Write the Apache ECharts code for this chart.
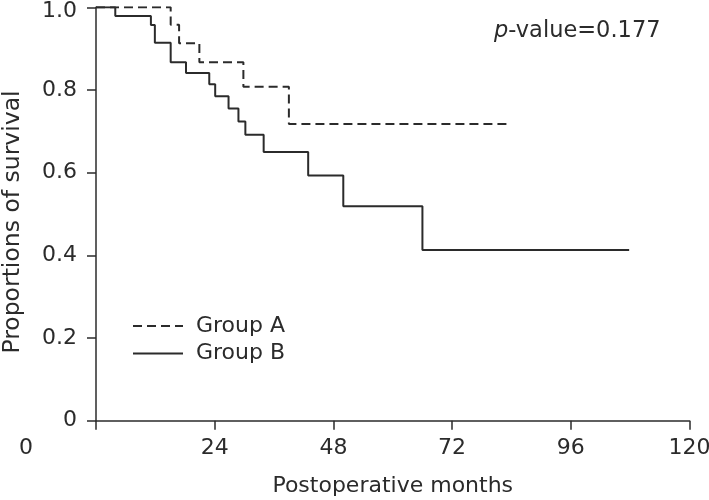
<!DOCTYPE html>
<html>
<head>
<meta charset="utf-8">
<script src="https://cdn.jsdelivr.net/npm/echarts@6/dist/echarts.min.js"></script>
<style>html,body{margin:0;padding:0;background:#fff}#c{width:709px;height:500px}</style>
</head>
<body>
<div id="c"></div>
<script>
// Data
const xTicks = [0, 24, 48, 72, 96, 120];
const yTicks = [0, 0.2, 0.4, 0.6, 0.8, 1.0];
const groupATime = [0, 15.1, 16.8, 20.9, 29.8, 39.0, 83.7];
const groupASurv = [1.0, 0.958, 0.913, 0.867, 0.808, 0.718, 0.718];
const groupBTime = [0, 3.9, 11.1, 11.9, 15.1, 18.2, 22.9, 24.1, 26.8, 28.8, 30.2, 33.9, 42.9, 50.0, 66.0, 107.8];
const groupBSurv = [1.0, 0.979, 0.957, 0.914, 0.867, 0.841, 0.814, 0.785, 0.755, 0.724, 0.692, 0.650, 0.593, 0.519, 0.413, 0.413];
const seriesNames = ['Group A', 'Group B'];
const pValueText = '0.177';

const FONT = 'DejaVu Sans';
const TXT = '#2b2b2b';
const LINE = '#2b2b2b';

const chart = echarts.init(document.getElementById('c'), null, {renderer: 'canvas'});
const zip = (t, s) => t.map((v, i) => [v, s[i]]);

chart.setOption({
  animation: false,
  backgroundColor: '#fff',
  textStyle: {fontFamily: FONT, color: TXT},
  title: {
    left: 494, top: 20, padding: 0,
    text: '{i|p}-value=' + pValueText,
    textStyle: {
      fontFamily: FONT, fontSize: 22.5, fontWeight: 'normal', color: TXT,
      rich: {i: {fontFamily: FONT, fontSize: 22.5, fontStyle: 'italic', color: TXT}}
    }
  },
  legend: {
    orient: 'vertical', left: 132, top: 314, padding: 0,
    itemWidth: 50, itemHeight: 14, itemGap: 3.6,
    data: seriesNames,
    itemStyle: {opacity: 0},
    textStyle: {fontFamily: FONT, fontSize: 22, color: TXT, lineHeight: 24, padding: [0, 0, 0, 8]}
  },
  grid: {left: 96, right: 19.5, top: 7.3, bottom: 79.3, containLabel: false, outerBoundsMode: 'none'},
  xAxis: {
    type: 'value', min: xTicks[0], max: xTicks[xTicks.length - 1], interval: 24,
    name: 'Postoperative months', nameLocation: 'middle', nameGap: 55,
    nameTextStyle: {fontFamily: FONT, fontSize: 22, color: TXT},
    axisLine: {show: true, lineStyle: {color: LINE, width: 1.5}},
    axisTick: {show: true, length: 9, lineStyle: {color: LINE, width: 1.5}},
    splitLine: {show: false},
    axisLabel: {
      margin: 17, fontFamily: FONT, fontSize: 22, color: TXT,
      formatter: v => v === 0 ? '{z|0}' : String(v),
      rich: {z: {fontFamily: FONT, fontSize: 22, color: TXT, padding: [0, 140, 0, 0]}}
    }
  },
  yAxis: {
    type: 'value', min: yTicks[0], max: yTicks[yTicks.length - 1], interval: 0.2,
    name: 'Proportions of survival', nameLocation: 'middle', nameGap: 71, nameRotate: 90,
    nameTextStyle: {fontFamily: FONT, fontSize: 23.5, color: TXT, padding: [0, 0, 0, -16]},
    axisLine: {show: true, lineStyle: {color: LINE, width: 1.5}},
    axisTick: {show: true, length: 9, lineStyle: {color: LINE, width: 1.5}},
    splitLine: {show: false},
    axisLabel: {
      margin: 19, fontFamily: FONT, fontSize: 22, color: TXT,
      formatter: v => v === 0 ? '0' : (v >= 1 ? '{t|' + v.toFixed(1) + '}' : v.toFixed(1)),
      rich: {t: {fontFamily: FONT, fontSize: 22, color: TXT, padding: [8, 0, 0, 0]}}
    }
  },
  series: [
    {
      name: seriesNames[0], type: 'line', step: 'end', symbol: 'none',
      data: zip(groupATime, groupASurv),
      lineStyle: {color: LINE, width: 2, type: [9, 5]},
      itemStyle: {color: LINE}
    },
    {
      name: seriesNames[1], type: 'line', step: 'end', symbol: 'none',
      data: zip(groupBTime, groupBSurv),
      lineStyle: {color: LINE, width: 2, type: 'solid'},
      itemStyle: {color: LINE}
    }
  ]
});
</script>
</body>
</html>
